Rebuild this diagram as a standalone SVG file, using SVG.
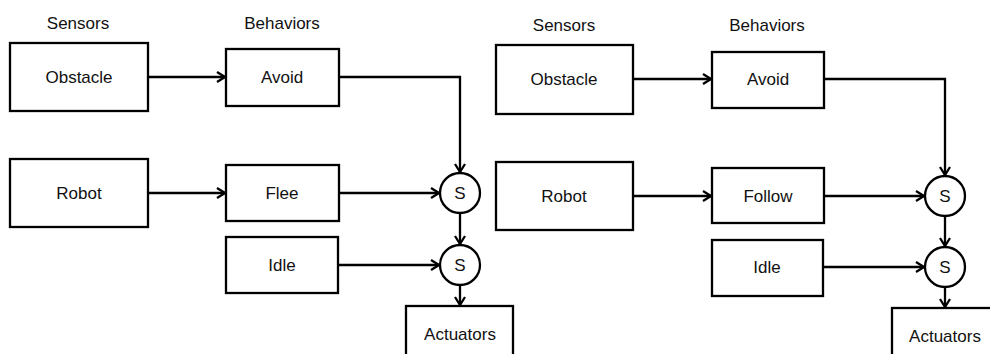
<svg xmlns="http://www.w3.org/2000/svg" width="990" height="354" viewBox="0 0 990 354">
  <style>
    .box { fill: #fff; stroke: #000; stroke-width: 2.3; }
    .sum { fill: #fff; stroke: #000; stroke-width: 2.3; }
    .lbl { font-family: "Liberation Sans", Arial, sans-serif; font-size: 17px; fill: #111; text-anchor: middle; }
    .wire { fill: none; stroke: #000; stroke-width: 2.3; marker-end: url(#arrow); }
  </style>
  <defs>
    <marker id="arrow" viewBox="0 0 10 12" refX="9" refY="6" markerWidth="10" markerHeight="12" markerUnits="userSpaceOnUse" orient="auto">
      <path d="M1,1 L9,6 L1,11" fill="none" stroke="#000" stroke-width="2.3"/>
    </marker>
  </defs>

  <!-- left variant: avoid + flee -->
  <text class="lbl" x="78" y="29">Sensors</text>
  <text class="lbl" x="282" y="29">Behaviors</text>

  <g id="L-obstacle"><rect class="box" x="10" y="43" width="138" height="68"/><text class="lbl" x="79" y="83">Obstacle</text></g>
  <g id="L-avoid"><rect class="box" x="226" y="49" width="113" height="57"/><text class="lbl" x="282" y="83">Avoid</text></g>
  <g id="L-robot"><rect class="box" x="10" y="159" width="138" height="68"/><text class="lbl" x="79" y="199">Robot</text></g>
  <g id="L-flee"><rect class="box" x="226" y="165" width="113" height="56"/><text class="lbl" x="282" y="199">Flee</text></g>
  <g id="L-idle"><rect class="box" x="226" y="237" width="112" height="56"/><text class="lbl" x="282" y="271">Idle</text></g>
  <g id="L-s1"><circle class="sum" cx="460" cy="193" r="20"/><text class="lbl" x="460" y="199">S</text></g>
  <g id="L-s2"><circle class="sum" cx="460" cy="265" r="20"/><text class="lbl" x="460" y="271">S</text></g>
  <g id="L-actuators"><rect class="box" x="406" y="306" width="107" height="60"/><text class="lbl" x="460" y="340">Actuators</text></g>

  <!-- right variant: avoid + follow -->
  <text class="lbl" x="564" y="31">Sensors</text>
  <text class="lbl" x="767" y="31">Behaviors</text>

  <g id="R-obstacle"><rect class="box" x="496" y="45" width="137" height="69"/><text class="lbl" x="564" y="85">Obstacle</text></g>
  <g id="R-avoid"><rect class="box" x="712" y="52" width="112" height="56"/><text class="lbl" x="768" y="85">Avoid</text></g>
  <g id="R-robot"><rect class="box" x="496" y="162" width="137" height="68"/><text class="lbl" x="564" y="202">Robot</text></g>
  <g id="R-follow"><rect class="box" x="712" y="168" width="112" height="55"/><text class="lbl" x="768" y="202">Follow</text></g>
  <g id="R-idle"><rect class="box" x="712" y="240" width="111" height="56"/><text class="lbl" x="767" y="273">Idle</text></g>
  <g id="R-s1"><circle class="sum" cx="945" cy="196" r="20"/><text class="lbl" x="945" y="202">S</text></g>
  <g id="R-s2"><circle class="sum" cx="945" cy="267" r="20"/><text class="lbl" x="945" y="273">S</text></g>
  <g id="R-actuators"><rect class="box" x="892" y="308" width="106" height="60"/><text class="lbl" x="945" y="342">Actuators</text></g>

  <g id="connectors">
    <path class="wire" d="M148,77 H225"/>
    <path class="wire" d="M339,77 H460 V172"/>
    <path class="wire" d="M148,193 H225"/>
    <path class="wire" d="M339,193 H439"/>
    <path class="wire" d="M460,213 V244"/>
    <path class="wire" d="M338,265 H439"/>
    <path class="wire" d="M460,285 V305"/>

    <path class="wire" d="M633,79 H711"/>
    <path class="wire" d="M824,79 H945 V175"/>
    <path class="wire" d="M633,196 H711"/>
    <path class="wire" d="M824,196 H924"/>
    <path class="wire" d="M945,216 V246"/>
    <path class="wire" d="M823,267 H924"/>
    <path class="wire" d="M945,287 V307"/>
  </g>
</svg>
